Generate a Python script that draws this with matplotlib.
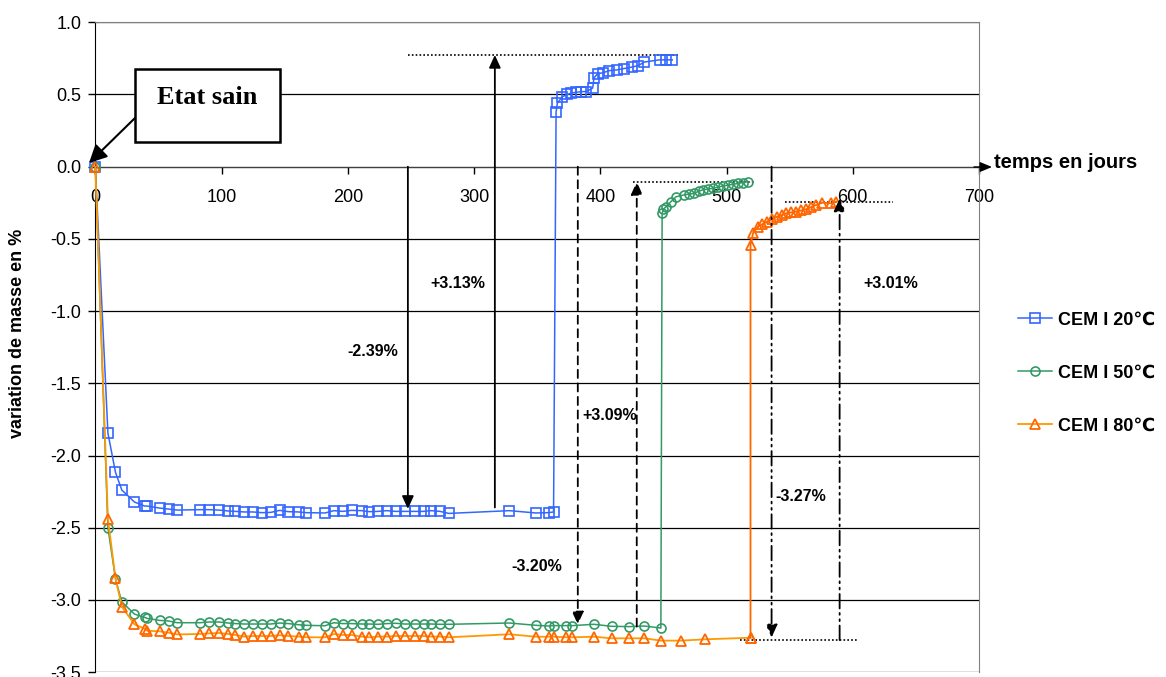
import matplotlib
matplotlib.use("Agg")
import matplotlib.pyplot as plt
from matplotlib.patches import Rectangle

plt.rcParams['font.family'] = ['Liberation Sans', 'DejaVu Sans']
plt.rcParams['axes.unicode_minus'] = False

# jours de mesure communs (phase de sechage)
jours = [0, 10, 16, 21, 31, 39, 41, 51, 58, 65, 83, 90, 98, 105, 111, 118, 125, 132,
         139, 146, 153, 161, 167, 182, 189, 196, 203, 211, 217, 224, 231, 238, 245,
         253, 260, 266, 273, 280, 328, 349, 359, 363]

cem20 = [0, -1.845, -2.117, -2.239, -2.322, -2.350, -2.350, -2.364, -2.371, -2.378,
         -2.375, -2.375, -2.378, -2.384, -2.387, -2.391, -2.391, -2.396, -2.394, -2.380,
         -2.389, -2.391, -2.396, -2.398, -2.382, -2.387, -2.380, -2.382, -2.389, -2.387,
         -2.382, -2.387, -2.387, -2.387, -2.387, -2.382, -2.387, -2.401, -2.382, -2.398,
         -2.396, -2.391]
cem50 = [0, -2.50, -2.855, -3.014, -3.098, -3.121, -3.128, -3.142, -3.146, -3.158,
         -3.158, -3.153, -3.153, -3.160, -3.164, -3.167, -3.167, -3.167, -3.167, -3.160,
         -3.164, -3.172, -3.176, -3.179, -3.158, -3.164, -3.164, -3.167, -3.167, -3.169,
         -3.164, -3.162, -3.167, -3.167, -3.167, -3.167, -3.169, -3.169, -3.160, -3.176,
         -3.181, -3.178]
cem80 = [0, -2.44, -2.851, -3.047, -3.169, -3.199, -3.213, -3.218, -3.227, -3.239,
         -3.236, -3.232, -3.229, -3.236, -3.243, -3.254, -3.250, -3.250, -3.250, -3.245,
         -3.250, -3.254, -3.259, -3.259, -3.236, -3.243, -3.243, -3.254, -3.259, -3.254,
         -3.254, -3.250, -3.250, -3.250, -3.250, -3.254, -3.254, -3.259, -3.238, -3.255,
         -3.255, -3.255]

# suite du sechage
jours50_b = [373, 378, 395, 409, 423, 435, 448]
cem50_b = [-3.178, -3.178, -3.169, -3.183, -3.185, -3.181, -3.195]
jours80_b = [373, 378, 395, 409, 423, 435, 448, 464, 483, 519]
cem80_b = [-3.259, -3.259, -3.255, -3.266, -3.266, -3.266, -3.282, -3.282, -3.273, -3.262]

# resaturation
jours20_r = [365, 366, 370, 374, 377, 381, 385, 389, 394, 395, 398, 402, 407, 413, 419,
             425, 430, 435, 447, 452, 457]
cem20_r = [0.38, 0.44, 0.485, 0.50, 0.51, 0.515, 0.52, 0.52, 0.545, 0.615, 0.645, 0.65,
           0.665, 0.67, 0.68, 0.69, 0.70, 0.725, 0.74, 0.74, 0.74]
jours50_r = [449, 450, 452, 456, 460, 466, 470, 474, 478, 481, 485, 489, 493, 497, 501,
             505, 509, 513, 517]
cem50_r = [-0.323, -0.295, -0.277, -0.242, -0.208, -0.196, -0.19, -0.185, -0.17, -0.161,
           -0.155, -0.15, -0.142, -0.134, -0.128, -0.122, -0.116, -0.11, -0.104]
jours80_r = [519, 521, 525, 528, 532, 536, 540, 544, 547, 551, 555, 559, 563, 567, 571,
             576, 583, 587]
cem80_r = [-0.542, -0.461, -0.415, -0.40, -0.381, -0.365, -0.346, -0.335, -0.323, -0.317,
           -0.311, -0.303, -0.295, -0.28, -0.265, -0.249, -0.254, -0.242]

W, H = 1166, 677
fig = plt.figure(figsize=(W / 100, H / 100), dpi=100)
ax = fig.add_axes([95.3 / W, 1 - 672.1 / H, (979 - 95.3) / W, (672.1 - 22.3) / H])

bleu = '#3366FF'
vert = '#339966'
orange_l = '#FF9900'
orange_m = '#FF6600'

l20, = ax.plot(jours + jours20_r, cem20 + cem20_r, color=bleu, lw=1.1, marker='s',
               ms=6.5, mfc='none', mec=bleu, mew=1.2, clip_on=False, zorder=3)
l50, = ax.plot(jours + jours50_b + jours50_r, cem50 + cem50_b + cem50_r, color=vert,
               lw=1.1, marker='o', ms=6.5, mfc='none', mec=vert, mew=1.2,
               clip_on=False, zorder=3)
l80, = ax.plot(jours + jours80_b, cem80 + cem80_b, color=orange_l, lw=1.3, marker='^',
               ms=7, mfc='none', mec=orange_m, mew=1.3, clip_on=False, zorder=3)
ax.plot(jours80_b[-1:] + jours80_r, cem80_b[-1:] + cem80_r, color=orange_m, lw=1.3,
        marker='^', ms=7, mfc='none', mec=orange_m, mew=1.3, clip_on=False, zorder=3)

ax.set_xlim(0, 700)
ax.set_ylim(-3.5, 1.0)
ax.set_xticks(range(0, 701, 100))
ax.set_yticks([1.0, 0.5, 0.0, -0.5, -1.0, -1.5, -2.0, -2.5, -3.0, -3.5])
ax.set_yticklabels(['%.1f' % v for v in ax.get_yticks()])
ax.yaxis.grid(True, color='black', lw=0.9)
ax.set_axisbelow(True)

ax.spines['bottom'].set_position(('data', 0))
ax.spines['bottom'].set_color('#404040')
ax.spines['left'].set_color('black')
ax.spines['top'].set_color('#808080')
ax.spines['right'].set_color('#808080')
ax.tick_params(axis='x', direction='out', length=5, width=1, pad=11, labelsize=13)
ax.tick_params(axis='y', direction='out', length=5, width=1, pad=5, labelsize=13)


def fleche(x, y0, y1, ls):
    ax.annotate('', xy=(x, y1), xytext=(x, y0),
                arrowprops=dict(arrowstyle='-|>,head_length=0.55,head_width=0.25',
                                lw=1.3, color='k', linestyle=ls, shrinkA=0, shrinkB=0,
                                mutation_scale=14), zorder=4)


pointille = (0, (1, 1.3))
tiret = (0, (4.5, 3))
mixte = (0, (8, 2.5, 1, 2.5, 1, 2.5))

# CEM I 20
ax.plot([247.6, 463], [0.774, 0.774], color='k', lw=1.2, ls=pointille)
fleche(247.6, 0, -2.37, '-')
fleche(316.5, -2.36, 0.774, '-')
ax.text(287, -0.806, '+3.13%', ha='center', va='center', fontsize=11.5, fontweight='bold')
ax.text(220, -1.283, '-2.39%', ha='center', va='center', fontsize=11.5, fontweight='bold')

# CEM I 50
ax.plot([425.7, 522.3], [-0.105, -0.105], color='k', lw=1.2, ls=pointille)
fleche(382.2, 0, -3.17, tiret)
fleche(428.9, -3.185, -0.105, tiret)
ax.text(407.5, -1.726, '+3.09%', ha='center', va='center', fontsize=11.5, fontweight='bold')
ax.text(349.7, -2.772, '-3.20%', ha='center', va='center', fontsize=11.5, fontweight='bold')

# CEM I 80
ax.plot([546, 631.6], [-0.242, -0.242], color='k', lw=1.2, ls=pointille)
ax.plot([510.4, 603], [-3.278, -3.278], color='k', lw=1.2, ls=pointille, clip_on=False)
fleche(535.7, 0, -3.26, mixte)
fleche(589.6, -3.278, -0.22, mixte)
ax.text(630, -0.807, '+3.01%', ha='center', va='center', fontsize=11.5, fontweight='bold')
ax.text(558.8, -2.285, '-3.27%', ha='center', va='center', fontsize=11.5, fontweight='bold')

# Etat sain
fig.patches.append(Rectangle((135 / W, 1 - 141.7 / H), 145 / W, 72.4 / H,
                             transform=fig.transFigure, facecolor='white',
                             edgecolor='black', lw=1.8, zorder=5))
fig.text(206.7 / W, 1 - 97.5 / H, 'Etat sain', ha='center', va='center',
         family='Liberation Serif', fontweight='bold', fontsize=19, zorder=6)
ax.annotate('', xy=(89 / W, 1 - 163 / H), xycoords='figure fraction',
            xytext=(135 / W, 1 - 118 / H), textcoords='figure fraction',
            arrowprops=dict(arrowstyle='-|>,head_length=0.6,head_width=0.3', lw=1.5,
                            color='k', shrinkA=0, shrinkB=0, mutation_scale=18),
            zorder=6)

# axe des temps
ax.annotate('', xy=(992 / W, 1 - 167 / H), xycoords='figure fraction',
            xytext=(974 / W, 1 - 167 / H), textcoords='figure fraction',
            arrowprops=dict(arrowstyle='-|>,head_length=0.6,head_width=0.25', lw=1,
                            color='k', shrinkA=0, shrinkB=0, mutation_scale=12))
fig.text(994 / W, 1 - 163 / H, 'temps en jours', ha='left', va='center',
         fontsize=14.5, fontweight='bold')

fig.text(18 / W, 1 - 333 / H, 'variation de masse en %', rotation=90, ha='center',
         va='center', fontsize=13, fontweight='bold')

ax.legend([l20, l50, l80], ['CEM I 20℃', 'CEM I 50℃', 'CEM I 80℃'],
          loc='center left', bbox_to_anchor=(1018 / W, 1 - 373 / H),
          bbox_transform=fig.transFigure, frameon=False,
          prop=dict(weight='bold', size=13), labelspacing=2.0, handlelength=1.9,
          handletextpad=0.3, borderpad=0, borderaxespad=0, numpoints=1)

fig.savefig('out.png', dpi=100)
